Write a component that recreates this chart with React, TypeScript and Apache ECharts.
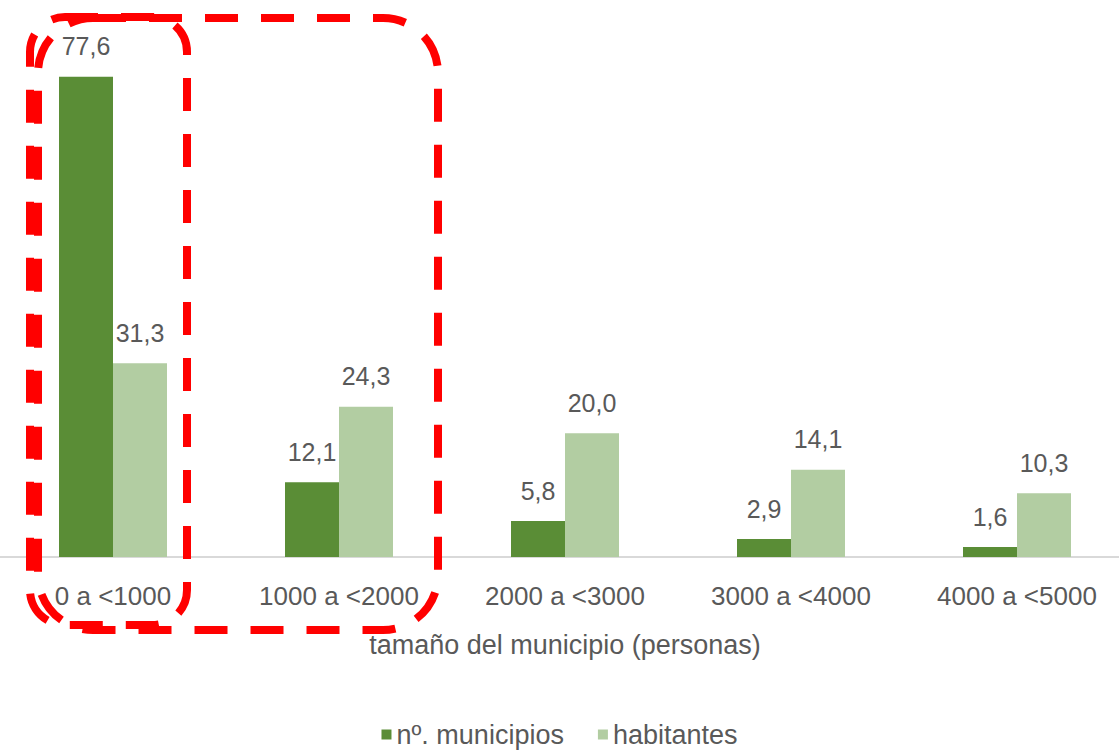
import React, { useEffect, useRef } from "react";
import * as echarts from "echarts";

const categories = ["0 a <1000", "1000 a <2000", "2000 a <3000", "3000 a <4000", "4000 a <5000"];
const municipios = [77.6, 12.1, 5.8, 2.9, 1.6];
const habitantes = [31.3, 24.3, 20.0, 14.1, 10.3];
const seriesNames = ["nº. municipios", "habitantes"];
const axisTitle = "tamaño del municipio (personas)";

const FONT = "'Liberation Sans', Arial, sans-serif";
const TXT = "#595959";

export default function App() {
  const ref = useRef<HTMLDivElement>(null);
  useEffect(() => {
    if (!ref.current) return;
    const chart = echarts.init(ref.current, null, { renderer: "svg" });
    const fmt = (p: any) => Number(p.value).toFixed(1).replace(".", ",");
    const label = {
      show: true,
      position: "top",
      distance: 18,
      color: TXT,
      fontSize: 25,
      fontFamily: FONT,
      formatter: fmt,
    };
    const dash = {
      stroke: "#ff0000",
      fill: "none",
      lineWidth: 8,
      lineDash: [33, 23],
    };
    chart.setOption({
      animation: false,
      backgroundColor: "#ffffff",
      grid: { left: 0, width: 1130, top: 62, bottom: 196, outerBoundsMode: "none", containLabel: false },
      legend: {
        bottom: 0,
        left: "center",
        icon: "rect",
        itemWidth: 10,
        itemHeight: 10,
        itemGap: 34,
        textStyle: { color: TXT, fontSize: 27, fontFamily: FONT },
        data: seriesNames,
      },
      xAxis: {
        type: "category",
        data: categories,
        axisTick: { show: false },
        axisLine: { lineStyle: { color: "#d9d9d9", width: 2 } },
        axisLabel: { color: TXT, fontSize: 26, fontFamily: FONT, margin: 26 },
        name: axisTitle,
        nameLocation: "middle",
        nameGap: 74,
        nameTextStyle: { color: TXT, fontSize: 27, fontFamily: FONT },
      },
      yAxis: { type: "value", min: 0, max: 80, show: false, splitLine: { show: false } },
      series: [
        {
          name: seriesNames[0],
          type: "bar",
          data: municipios,
          barWidth: 54,
          barGap: "0%",
          itemStyle: { color: "#5a8d36" },
          label,
        },
        {
          name: seriesNames[1],
          type: "bar",
          data: habitantes,
          barWidth: 54,
          barGap: "0%",
          itemStyle: { color: "#b2cda2" },
          label,
        },
      ],
      graphic: [
        {
          type: "rect",
          shape: { x: 30, y: 17, width: 157, height: 608, r: 35 },
          style: dash,
          z: 100,
        },
        {
          type: "rect",
          shape: { x: 38, y: 18, width: 400, height: 612, r: 55 },
          style: dash,
          z: 100,
        },
      ],
    });
    return () => chart.dispose();
  }, []);
  return <div ref={ref} style={{ width: 1119, height: 753, position: "absolute", left: 0, top: 0 }} />;
}
